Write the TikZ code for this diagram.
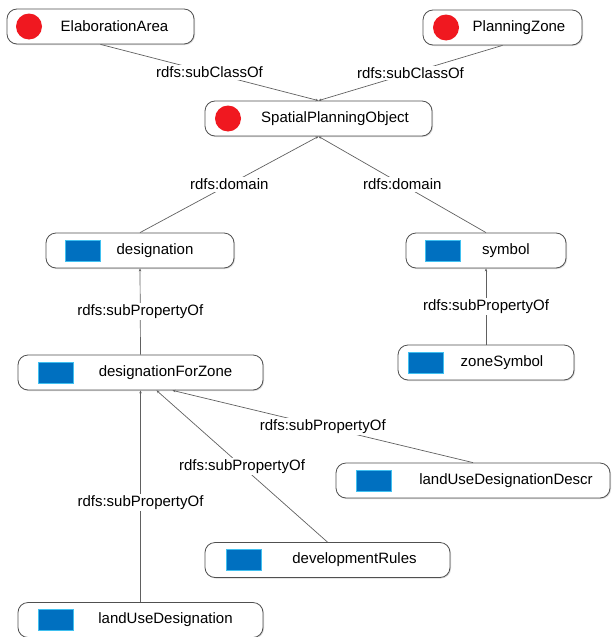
\documentclass[tikz,border=0pt]{standalone}
\usepackage{fontspec}
\setmainfont{Liberation Sans}
\usepackage{tikz}
\usetikzlibrary{arrows.meta,shadows}
\definecolor{clsred}{HTML}{F01820}
\definecolor{propblue}{HTML}{0070C0}
\definecolor{propedge}{HTML}{40C0F0}
\definecolor{boxgray}{HTML}{505050}
\definecolor{linegray}{HTML}{606060}
\tikzset{
  box/.style={draw=boxgray, line width=0.8pt, fill=white, rounded corners=10pt,
    minimum height=35pt, inner sep=2pt, font=\fontsize{15}{18}\selectfont,
    drop shadow={shadow xshift=1pt, shadow yshift=-1pt, opacity=0.3}},
  tpad/.style={execute at begin node={\hspace*{#1}}},
  cls/.style={box, path picture={\fill[clsred] ([xshift=#1]path picture bounding box.west) circle (13pt);}},
  cls/.default=23pt,
  prop/.style={box, path picture={\filldraw[fill=propblue, draw=propedge, line width=0.6pt, sharp corners]
    ([xshift=#1, yshift=-10.5pt]path picture bounding box.west) rectangle ++(35pt,21pt);}},
  prop/.default=20pt,
  rel/.style={draw=linegray, line width=0.7pt, -{Stealth[length=3pt,width=2.5pt]}},
  rlabel/.style={fill=white, inner sep=1.5pt, font=\fontsize{15}{18}\selectfont}
}
\begin{document}
\begin{tikzpicture}[x=1pt,y=-1pt]
\useasboundingbox (0,0) rectangle (612,637);

% classes
\node[cls=22pt, minimum width=187pt, tpad=28pt] (ea) at (100.5,26.5) {ElaborationArea};
\node[cls, minimum width=159pt, tpad=33pt] (pz) at (502.5,27.5) {PlanningZone};
\node[cls, minimum width=227pt, tpad=33pt] (spo) at (318.5,118.5) {SpatialPlanningObject};

% properties
\node[prop=19pt, minimum width=188pt, tpad=30pt] (desig) at (140,250.5) {designation};
\node[prop=19pt, minimum width=160pt, tpad=40pt] (symbol) at (486,250.5) {symbol};
\node[prop, minimum width=245pt, tpad=50pt] (dfz) at (140.5,372.5) {designationForZone};
\node[prop=10pt, minimum width=176pt, tpad=32pt] (zsym) at (486,362.5) {zoneSymbol};
\node[prop, minimum width=274pt, tpad=66pt] (ludescr) at (473,480.5) {landUseDesignationDescr};
\node[prop=21pt, minimum width=245pt, tpad=54pt] (devrules) at (327.5,560) {developmentRules};
\node[prop, minimum width=245pt, tpad=50pt] (lud) at (140.5,620) {landUseDesignation};

\draw[rel] (ea.south) -- node[rlabel] {rdfs:subClassOf} (spo.north);
\draw[rel] (pz.south) -- node[rlabel] {rdfs:subClassOf} (spo.north);
\draw[rel] (desig.north) -- node[rlabel] {rdfs:domain} (spo.south);
\draw[rel] (symbol.north) -- node[rlabel] {rdfs:domain} (spo.south);
\draw[rel] (dfz.north) -- node[rlabel] {rdfs:subPropertyOf} (desig.south);
\draw[rel] (zsym.north) -- node[rlabel] {rdfs:subPropertyOf} (symbol.south);
\draw[rel] (ludescr.north) -- node[rlabel] {rdfs:subPropertyOf} ([xshift=32pt]dfz.south);
\draw[rel] (devrules.north) -- node[rlabel] {rdfs:subPropertyOf} ([xshift=16pt]dfz.south);
\draw[rel] (lud.north) -- node[rlabel, pos=0.47] {rdfs:subPropertyOf} (dfz.south);
\end{tikzpicture}
\end{document}
